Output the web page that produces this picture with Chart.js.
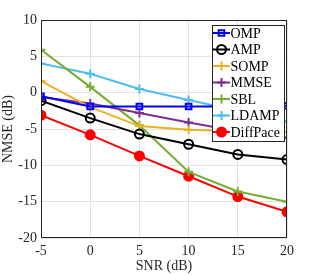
<!DOCTYPE html>
<html>
<head>
<meta charset="utf-8">
<script src="https://cdn.jsdelivr.net/npm/chart.js@4/dist/chart.umd.min.js"></script>
<style>
  body { margin: 0; background: #fff; }
</style>
</head>
<body>
<canvas id="myChart" width="317" height="275"></canvas>
<script>
var snr = [-5, 0, 5, 10, 15, 20];

var omp = [-0.5, -1.9, -1.9, -1.9, -1.9, -1.8];
var amp = [-1.1, -3.5, -5.7, -7.1, -8.5, -9.2];
var somp = [1.6, -2.0, -4.6, -5.1, -5.3, -5.4];
var mmse = [-0.6, -1.5, -2.8, -4.1, -5.3, -6.2];
var sbl = [5.9, 0.8, -4.5, -10.9, -13.6, -15.0];
var ldamp = [4.0, 2.6, 0.5, -1.0, -2.5, -4.0];
var diffpace = [-3.1, -5.8, -8.7, -11.5, -14.3, -16.4];

var yTicks = [10, 5, 0, -5, -10, -15, -20];

function pts(arr) {
  return arr.map((v, i) => ({ x: snr[i], y: v }));
}

const serif = "'Liberation Serif', 'Times New Roman', serif";
const clear = 'rgba(255,255,255,0)';

// line + marker series, MATLAB-ish colours
const datasets = [
  { label: 'OMP', data: pts(omp), borderColor: '#0000ff', pointStyle: 'rect', pointRadius: 4, pointBackgroundColor: clear },
  { label: 'AMP', data: pts(amp), borderColor: '#000000', pointStyle: 'circle', pointRadius: 4.5, pointBackgroundColor: clear },
  { label: 'SOMP', data: pts(somp), borderColor: '#EDB120', pointStyle: 'cross', pointRadius: 4.5 },
  { label: 'MMSE', data: pts(mmse), borderColor: '#7E2F8E', pointStyle: 'cross', pointRadius: 4.5 },
  { label: 'SBL', data: pts(sbl), borderColor: '#77AC30', pointStyle: 'cross', pointRadius: 4.5 },
  { label: 'LDAMP', data: pts(ldamp), borderColor: '#4DBEEE', pointStyle: 'cross', pointRadius: 4.5 },
  { label: 'DiffPace', data: pts(diffpace), borderColor: '#ff0000', pointStyle: 'circle', pointRadius: 4.5, pointBackgroundColor: '#ff0000' },
].map((d) => Object.assign({
  borderWidth: 2,
  pointBorderWidth: 2,
  pointBorderColor: d.borderColor,
  pointBackgroundColor: d.pointBackgroundColor || d.borderColor,
  fill: false,
  tension: 0,
}, d));

// axes box + legend inside the plot
const boxLegend = {
  id: 'boxLegend',
  afterDatasetsDraw(chart) {
    const ctx = chart.ctx;
    const a = chart.chartArea;
    ctx.save();
    ctx.strokeStyle = '#262626';
    ctx.lineWidth = 1;
    ctx.strokeRect(a.left + 0.5, a.top + 0.5, a.right - a.left - 1, a.bottom - a.top - 1);

    // legend box
    const lx = 212, ly = 25, lw = 72, lh = 116;
    ctx.fillStyle = '#ffffff';
    ctx.fillRect(lx, ly, lw, lh);
    ctx.strokeStyle = '#262626';
    ctx.strokeRect(lx + 0.5, ly + 0.5, lw, lh);
    ctx.font = '14px ' + serif;
    ctx.textBaseline = 'middle';
    ctx.textAlign = 'left';
    chart.data.datasets.forEach((ds, i) => {
      const y = ly + 8 + i * 16.5;
      ctx.strokeStyle = ds.borderColor;
      ctx.fillStyle = ds.pointBackgroundColor;
      ctx.lineWidth = 2;
      ctx.beginPath();
      ctx.moveTo(lx + 1, y);
      ctx.lineTo(lx + 18, y);
      ctx.stroke();
      Chart.helpers.drawPoint(ctx, {
        pointStyle: ds.pointStyle,
        radius: ds.pointRadius,
        borderWidth: 2,
      }, lx + 9.5, y);
      ctx.fillStyle = '#000';
      ctx.fillText(ds.label, lx + 18.5, y + 1);
    });
    ctx.restore();
  },
};

const ctx = document.getElementById('myChart').getContext('2d');
const myChart = new Chart(ctx, {
  type: 'line',
  data: { datasets: datasets },
  plugins: [boxLegend],
  options: {
    responsive: false,
    animation: false,
    devicePixelRatio: 1,
    layout: { padding: { top: 20, right: 30, left: 0, bottom: 0 } },
    plugins: { legend: { display: false }, tooltip: { enabled: false } },
    scales: {
      x: {
        type: 'linear',
        min: -5,
        max: 20,
        afterFit: (s) => { s.height = 37; },
        afterBuildTicks: (s) => { s.ticks = snr.map((v) => ({ value: v })); },
        grid: { color: '#e3e3e3', drawTicks: false },
        border: { display: false },
        ticks: { color: '#262626', font: { family: serif, size: 14 }, padding: 5, maxRotation: 0 },
        title: { display: true, text: 'SNR (dB)', color: '#262626', font: { family: serif, size: 14 }, padding: { top: 0, bottom: 0 } },
      },
      y: {
        min: -20,
        max: 10,
        afterFit: (s) => { s.width = 41; },
        afterBuildTicks: (s) => { s.ticks = yTicks.map((v) => ({ value: v })); },
        grid: { color: '#e3e3e3', drawTicks: false },
        border: { display: false },
        ticks: { color: '#262626', font: { family: serif, size: 14 }, padding: 4 },
        title: { display: true, text: 'NMSE (dB)', color: '#262626', font: { family: serif, size: 14 }, padding: { top: 0, bottom: 2 } },
      },
    },
  },
});
</script>
</body>
</html>
